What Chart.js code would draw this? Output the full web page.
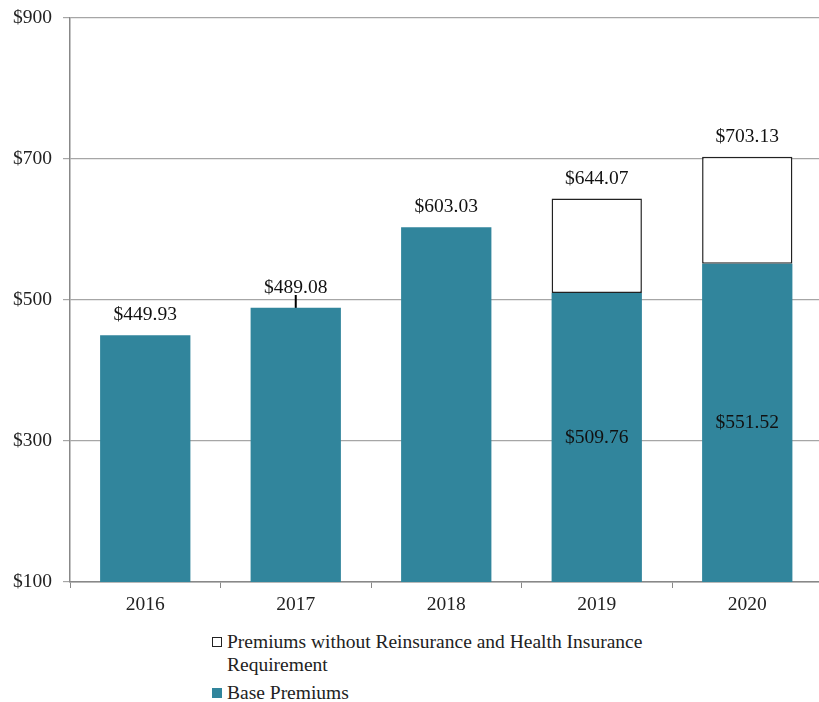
<!DOCTYPE html>
<html>
<head>
<meta charset="utf-8">
<script src="https://cdn.jsdelivr.net/npm/chart.js@4"></script>
<style>
  html, body { margin: 0; padding: 0; background: #fff; overflow: hidden; }
  #wrap { position: relative; width: 831px; height: 620px; }
  #legend {
    position: absolute; left: 212px; top: 630px; width: 470px;
    font-family: "Liberation Serif", "Times New Roman", Tinos, "DejaVu Serif", serif;
    font-size: 19.5px; color: #222;
  }
  .item { display: flex; align-items: flex-start; margin-bottom: 5px; line-height: 23px; }
  .box { width: 10px; height: 10px; margin: 7px 5px 0 0; flex: none; box-sizing: border-box; }
</style>
</head>
<body>
<div id="wrap"><canvas id="chart"></canvas></div>
<div id="legend"></div>
<script>
"use strict";

const years = ["2016", "2017", "2018", "2019", "2020"];
const basePremiums = [449.93, 489.08, 603.03, 509.76, 551.52];
const fullPremiums = [null, null, null, 644.07, 703.13];
const totalLabels = [449.93, 489.08, 603.03, 644.07, 703.13];
const markerValues = [null, 498, null, null, null];
const yTicks = [100, 300, 500, 700, 900];

const teal = "#31859C";
const fontFamily = '"Liberation Serif", "Times New Roman", Tinos, "DejaVu Serif", serif';
const extraPremiums = fullPremiums.map((v, i) => (v === null ? null : v - basePremiums[i]));

const legendItems = [
  { label: "Premiums without Reinsurance and Health Insurance Requirement", fill: "#fff", border: "1px solid #222" },
  { label: "Base Premiums", fill: teal, border: "none" },
];

const legend = document.getElementById("legend");
legendItems.forEach((item) => {
  const row = document.createElement("div");
  row.className = "item";
  row.innerHTML = `<span class="box" style="background:${item.fill};border:${item.border}"></span><span>${item.label}</span>`;
  legend.appendChild(row);
});

const money = (v) => "$" + v.toFixed(2);

const valueLabels = {
  id: "valueLabels",
  afterDatasetsDraw(chart) {
    const ctx = chart.ctx;
    const bottom = chart.chartArea.bottom;
    const baseMeta = chart.getDatasetMeta(0);
    const extraMeta = chart.getDatasetMeta(1);
    ctx.save();
    ctx.font = "19.5px " + fontFamily;
    ctx.fillStyle = "#111";
    ctx.textAlign = "center";
    ctx.textBaseline = "middle";
    years.forEach((y, i) => {
      const baseBar = baseMeta.data[i];
      const extraBar = extraMeta.data[i];
      const hasExtra = extraPremiums[i] !== null;
      const top = hasExtra ? extraBar.y : baseBar.y;
      ctx.fillText(money(totalLabels[i]), baseBar.x, top - 20);
      if (hasExtra) {
        ctx.fillText(money(basePremiums[i]), baseBar.x, (baseBar.y + Math.min(baseBar.base, bottom)) / 2);
      }
    });
    ctx.restore();
  },
};

Chart.defaults.font.family = fontFamily;
Chart.defaults.font.size = 19.5;
Chart.defaults.color = "#222";

new Chart(document.getElementById("chart"), {
  type: "bar",
  data: {
    labels: years,
    datasets: [
      {
        label: "Base Premiums",
        data: basePremiums,
        backgroundColor: teal,
        stack: "premium",
        barPercentage: 0.6,
        categoryPercentage: 1,
      },
      {
        label: "Premiums without Reinsurance and Health Insurance Requirement",
        data: extraPremiums,
        backgroundColor: "#fff",
        borderColor: "#222",
        borderWidth: 1.5,
        borderSkipped: false,
        stack: "premium",
        barPercentage: 0.6,
        categoryPercentage: 1,
      },
      {
        type: "line",
        data: markerValues,
        showLine: false,
        stack: "marker",
        pointStyle: "line",
        rotation: 90,
        pointRadius: 6.5,
        borderColor: "#000",
        borderWidth: 2,
      },
    ],
  },
  options: {
    responsive: true,
    maintainAspectRatio: false,
    animation: false,
    layout: { padding: { top: 18, right: 0, left: 0, bottom: 0 } },
    plugins: { legend: { display: false }, tooltip: { enabled: false } },
    scales: {
      x: {
        stacked: true,
        grid: { drawOnChartArea: false, tickLength: 6, color: "#888" },
        border: { color: "#888", width: 1.5 },
        ticks: { padding: 5 },
        afterFit: (scale) => { scale.height = 38; },
      },
      y: {
        stacked: true,
        min: 100,
        max: 900,
        afterBuildTicks: (scale) => { scale.ticks = yTicks.map((v) => ({ value: v })); },
        ticks: { callback: (v) => "$" + v, padding: 11 },
        grid: { color: "#A6A6A6", tickLength: 7, lineWidth: 1.2 },
        border: { color: "#888", width: 1.5 },
        afterFit: (scale) => {
          scale.width = 70;
          scale.paddingTop = 0;
          scale.paddingBottom = 0;
        },
      },
    },
  },
  plugins: [valueLabels],
});
</script>
</body>
</html>
